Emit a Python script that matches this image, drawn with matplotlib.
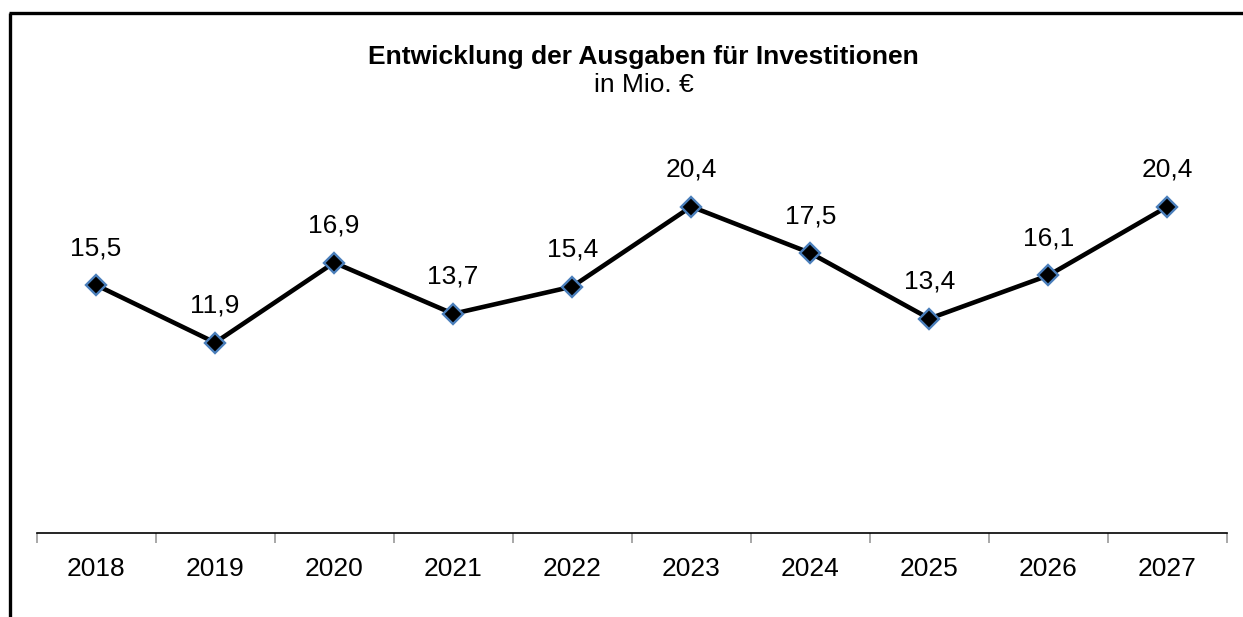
import matplotlib
matplotlib.use("Agg")
import matplotlib.pyplot as plt
from matplotlib.lines import Line2D
import numpy as np

years = ["2018", "2019", "2020", "2021", "2022", "2023", "2024", "2025", "2026", "2027"]
values = [15.5, 11.9, 16.9, 13.7, 15.4, 20.4, 17.5, 13.4, 16.1, 20.4]
labels = ["15,5", "11,9", "16,9", "13,7", "15,4", "20,4", "17,5", "13,4", "16,1", "20,4"]

plt.rcParams['font.family'] = ['Liberation Sans', 'DejaVu Sans']

W, H = 1243, 617
fig = plt.figure(figsize=(W / 100, H / 100), dpi=100)
fig.patch.set_facecolor("white")

# chart frame (left and top edges)
fig.add_artist(Line2D([10.5 / W, 10.5 / W], [0, 1 - 12.5 / H], transform=fig.transFigure,
                      color="black", lw=2.4, solid_capstyle="butt"))
fig.add_artist(Line2D([9.3 / W, 1], [1 - 12.5 / H, 1 - 12.5 / H], transform=fig.transFigure,
                      color="black", lw=2.4, solid_capstyle="butt"))

left, right = 36.5 / W, 1227 / W
bottom, top = (H - 533) / H, (H - 133) / H
ax = fig.add_axes([left, bottom, right - left, top - bottom])

x = np.arange(len(years))
ax.plot(x, values, color="black", lw=3.3, zorder=2)
ax.plot(x, values, ls="none", marker="D", markersize=10.5, markerfacecolor="black",
        markeredgecolor="#4A7EBB", markeredgewidth=1.7, zorder=3)

for xi, v, lab in zip(x, values, labels):
    ax.annotate(lab, (xi, v), xytext=(0, 26.5), textcoords="offset points",
                ha="center", va="center", fontsize=19)

ax.set_xlim(-0.5, len(years) - 0.5)
ax.set_ylim(0, 25)
ax.set_yticks([])
for s in ["left", "right", "top"]:
    ax.spines[s].set_visible(False)
ax.spines["bottom"].set_linewidth(1.2)
ax.spines["bottom"].set_color("black")

# category labels centred, tick marks at category boundaries
ax.set_xticks(x)
ax.set_xticklabels(years, fontsize=19)
ax.tick_params(axis="x", which="major", length=0, pad=17)
ax.set_xticks(np.arange(-0.5, len(years), 1.0), minor=True)
ax.tick_params(axis="x", which="minor", length=7, width=1.2, color="#9a9a9a", direction="out")

fig.text(0.5 * (369 + 918) / W, 1 - 57 / H, "Entwicklung der Ausgaben für Investitionen",
         ha="center", va="center", fontsize=19, fontweight="bold")
fig.text(0.5 * (369 + 918) / W, 1 - 85 / H, "in Mio. €",
         ha="center", va="center", fontsize=19)

fig.savefig("out.png", dpi=100, facecolor="white")
